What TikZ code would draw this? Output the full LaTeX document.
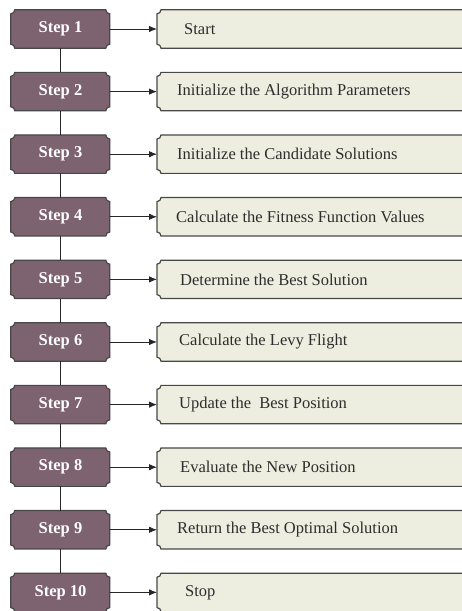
\documentclass[tikz,border=0pt]{standalone}
\usepackage{fontspec}
\setmainfont{Liberation Serif}
\usetikzlibrary{arrows.meta,backgrounds,calc}
\definecolor{mauve}{RGB}{125,98,112}
\definecolor{cream}{RGB}{238,238,224}
\definecolor{edgegray}{RGB}{72,72,72}
\definecolor{txtgray}{RGB}{45,45,45}
% #1 node name, #2 fill, #3 corner radius, #4 drawn width
\newcommand\concavebox[4]{%
  \filldraw[overlay, fill=#2, draw=edgegray, line width=1.2pt]
    ($(#1.north west)+(#3,0)$) -- ($(#1.north west)+(#4,0)+(-#3,0)$)
    arc[start angle=180, end angle=270, radius=#3]
    -- ($(#1.south west)+(#4,0)+(0,#3)$)
    arc[start angle=90, end angle=180, radius=#3]
    -- ($(#1.south west)+(#3,0)$)
    arc[start angle=0, end angle=90, radius=#3]
    -- ($(#1.north west)+(0,-#3)$)
    arc[start angle=270, end angle=360, radius=#3]
    -- cycle;}
\tikzset{
  x=1pt, y=1pt,
  stepbox/.style={minimum width=99pt, minimum height=38pt, inner sep=0pt,
    text=white, font=\fontsize{16.5}{19}\selectfont\bfseries},
  taskbox/.style={minimum height=38pt, inner ysep=0pt, anchor=west,
    text=txtgray, font=\fontsize{16.5}{19}\selectfont},
  link/.style={draw=black!85, line width=0.9pt},
  arrowlink/.style={link, -{Latex[length=8pt,width=6.5pt]}}
}
\begin{document}
\begin{tikzpicture}
\foreach \i/\t/\d in {1/Start/27,
  2/Initialize the Algorithm Parameters/20,
  3/Initialize the Candidate Solutions/20,
  4/Calculate the Fitness Function Values/19,
  5/Determine the Best Solution/23,
  6/Calculate the Levy Flight/22,
  7/Update the\ \ Best Position/22,
  8/Evaluate the New Position/23,
  9/Return the Best Optimal Solution/20,
  10/Stop/28}{
  \pgfmathsetmacro\yy{582-62.6*(\i-1)}
  \node[stepbox] (s\i) at (60.5,\yy) {Step \i};
  \node[taskbox, inner xsep=\d pt] (t\i) at (157,\yy) {\t};
  \begin{scope}[on background layer]
    \clip (0,0) rectangle (462,611);
    \concavebox{s\i}{mauve}{4pt}{99pt}
    \concavebox{t\i}{cream}{4pt}{330pt}
  \end{scope}
  \draw[arrowlink] (s\i) -- (t\i);
}
\foreach \i [evaluate=\i as \j using int(\i+1)] in {1,...,9}{
  \draw[link] (s\i) -- (s\j);
}
\pgfresetboundingbox
\useasboundingbox (0,0) rectangle (462,611);
\end{tikzpicture}
\end{document}
